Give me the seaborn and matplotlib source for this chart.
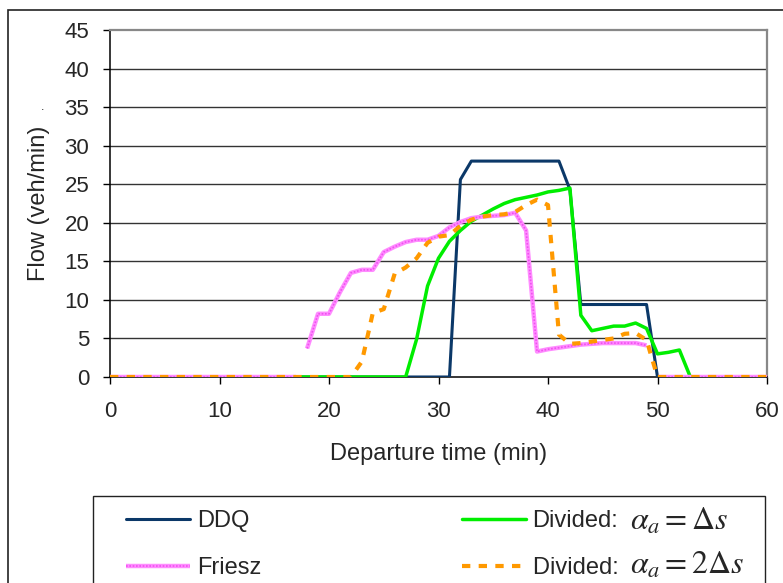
import numpy as np
import pandas as pd
import seaborn as sns
import matplotlib.pyplot as plt
import matplotlib.patches as mpatches
import matplotlib.patheffects as pe

# data (flow in veh/min per departure minute)
minutes = list(range(0, 61))

ddq = [0, 0, 0, 0, 0, 0, 0, 0, 0, 0,
       0, 0, 0, 0, 0, 0, 0, 0, 0, 0,
       0, 0, 0, 0, 0, 0, 0, 0, 0, 0,
       0, 0, 25.6, 28, 28, 28, 28, 28, 28, 28,
       28, 28, 24.3, 9.4, 9.4, 9.4, 9.4, 9.4, 9.4, 9.4,
       0, 0, 0, 0, 0, 0, 0, 0, 0, 0,
       0]

divided_1 = [0, 0, 0, 0, 0, 0, 0, 0, 0, 0,
             0, 0, 0, 0, 0, 0, 0, 0, 0, 0,
             0, 0, 0, 0, 0, 0, 0, 0, 4.9, 11.8,
             15.4, 17.6, 19.0, 20.2, 21.0, 21.8, 22.5, 23.0, 23.3, 23.6,
             24.0, 24.2, 24.5, 8.0, 6.0, 6.3, 6.6, 6.6, 7.0, 6.3,
             3.0, 3.2, 3.5, 0, 0, 0, 0, 0, 0, 0,
             0]

divided_2 = [0, 0, 0, 0, 0, 0, 0, 0, 0, 0,
             0, 0, 0, 0, 0, 0, 0, 0, 0, 0,
             0, 0, 0, 2.0, 8.3, 8.8, 13.4, 14.2, 15.4, 17.4,
             18.2, 18.4, 19.6, 20.4, 20.8, 21.0, 21.1, 21.4, 22.3, 23.0,
             22.3, 5.5, 4.3, 4.4, 4.6, 4.8, 5.0, 5.6, 5.7, 4.8,
             0, 0, 0, 0, 0, 0, 0, 0, 0, 0,
             0]

friesz = [0, 0, 0, 0, 0, 0, 0, 0, 0, 0,
          0, 0, 0, 0, 0, 0, 0, 0, 3.7, 8.2,
          8.2, 11.0, 13.5, 13.9, 13.9, 16.2, 16.9, 17.5, 17.8, 17.8,
          18.3, 19.4, 20.1, 20.6, 20.8, 20.9, 21.0, 21.3, 19.0, 3.3,
          3.6, 3.8, 4.0, 4.2, 4.3, 4.4, 4.4, 4.4, 4.4, 4.1,
          0, 0, 0, 0, 0, 0, 0, 0, 0, 0,
          0]
# the Friesz curve is drawn in three unconnected pieces
friesz_piece = [0] * 18 + [1] * 32 + [2] * 11

series_names = ['DDQ', 'Friesz', 'Divided:', 'Divided: ']
alpha_labels = [r'$\alpha_a = \Delta s$', r'$\alpha_a = 2\Delta s$']

yticks = [0, 5, 10, 15, 20, 25, 30, 35, 40, 45]
xticks = [0, 10, 20, 30, 40, 50, 60]

sns.set_style("white")
plt.rcParams['font.family'] = ['Liberation Sans', 'DejaVu Sans']
plt.rcParams['mathtext.fontset'] = 'stix'

fig = plt.figure(figsize=(7.83, 5.83), dpi=100)
ax = fig.add_axes([110 / 783, 1 - 377 / 583, 657 / 783, 347 / 583])

df_f = pd.DataFrame({'t': minutes, 'flow': friesz, 'piece': friesz_piece})

sns.lineplot(x=minutes, y=ddq, ax=ax, color='#0b3868', linewidth=2.2,
             label=series_names[0], zorder=3)
sns.lineplot(x=minutes, y=divided_1, ax=ax, color='#00ee00', linewidth=2.5,
             label=series_names[2], zorder=4)
# pink band with a darker dotted texture, like the Excel pattern line
sns.lineplot(data=df_f, x='t', y='flow', units='piece', estimator=None, ax=ax,
             color='#f050f0', linewidth=1.2, linestyle=(0, (1, 1)),
             label=series_names[1], zorder=5,
             path_effects=[pe.Stroke(linewidth=3.2, foreground='#ff8cff',
                                     dashes={'dash_offset': 0,
                                             'dash_list': None}),
                           pe.Normal()])
sns.lineplot(x=minutes, y=divided_2, ax=ax, color='#ff9900', linewidth=3.0,
             linestyle=(0, (2, 2)), label=series_names[3], zorder=6)

ax.set_xlim(0, 60)
ax.set_ylim(0, 45)
ax.set_xticks(xticks)
ax.set_yticks(yticks)
for y in yticks[1:-1]:
    ax.axhline(y, color='#333333', linewidth=1.0, zorder=1)

for s in ['left', 'bottom']:
    ax.spines[s].set_color('black')
    ax.spines[s].set_linewidth(1.1)
for s in ['top', 'right']:
    ax.spines[s].set_color('#888888')
    ax.spines[s].set_linewidth(1.6)

ax.tick_params(axis='y', direction='out', length=5, width=1, color='black',
               labelsize=16, pad=10, left=True)
ax.tick_params(axis='x', direction='out', length=5, width=1, color='black',
               labelsize=16, pad=12, bottom=True)

ax.set_xlabel('Departure time (min)', fontsize=17)
ax.set_ylabel('Flow (veh/min)', fontsize=17)
ax.xaxis.set_label_coords(0.5, -0.19)
ax.yaxis.set_label_coords(-0.091, 0.5)

# legend, in the order of the reference
handles, labels = ax.get_legend_handles_labels()
uniq = dict(zip(labels, handles))
ax.get_legend().remove()
fig.legend([uniq[k] for k in series_names], series_names, loc='upper left',
           bbox_to_anchor=(126 / 783, 1 - 510 / 583, (625 - 126) / 783, 0),
           mode='expand', ncol=2, frameon=False, borderpad=0,
           borderaxespad=0, fontsize=17, handlelength=2.7,
           handletextpad=0.3, labelspacing=1.05)
# the formulas after "Divided:" are set in a larger serif face
fig.text(630 / 783, 1 - 530 / 583, alpha_labels[0], fontsize=23,
         va='baseline', ha='left')
fig.text(630 / 783, 1 - 574 / 583, alpha_labels[1], fontsize=23,
         va='baseline', ha='left')

fig.patches.append(mpatches.Rectangle((93 / 783, -0.1), (765 - 93) / 783,
                                      1 - 496 / 583 + 0.1,
                                      transform=fig.transFigure, fill=False,
                                      edgecolor='#222222', linewidth=1.0))
fig.patches.append(mpatches.Rectangle((8 / 783, -0.1), 1.0, 1 - 10 / 583 + 0.1,
                                      transform=fig.transFigure, fill=False,
                                      edgecolor='#222222', linewidth=1.2))
fig.text(43 / 783, 1 - 107 / 583, '.', fontsize=9, ha='center', va='center')

plt.savefig('out.png', dpi=100)
